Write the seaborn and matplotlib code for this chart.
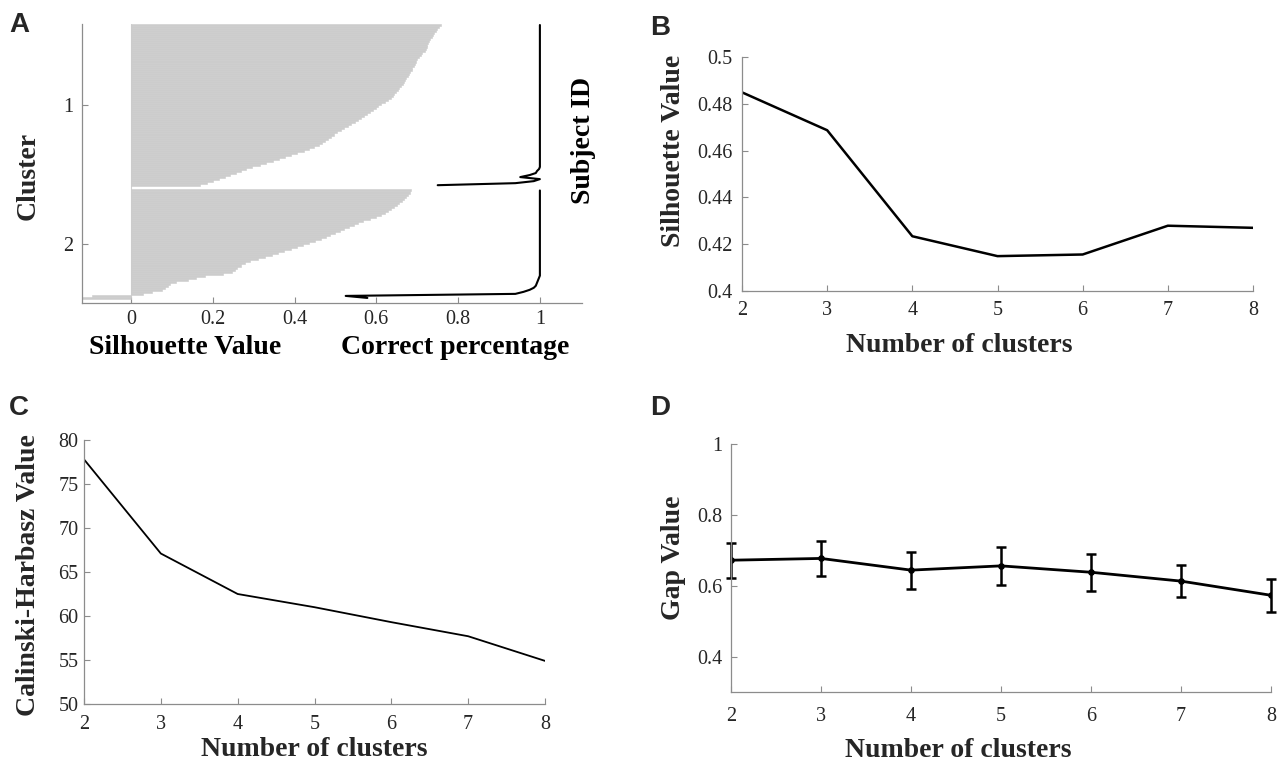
import numpy as np
import matplotlib
matplotlib.use("Agg")
import matplotlib.pyplot as plt
import seaborn as sns

# Panel A: silhouette values per subject, sorted within each cluster
sil_cluster1 = [
    0.757, 0.752, 0.749, 0.746, 0.742, 0.738, 0.735, 0.732, 0.729, 0.727,
    0.725, 0.723, 0.721, 0.718, 0.712, 0.708, 0.704, 0.700, 0.697, 0.694,
    0.691, 0.688, 0.686, 0.683, 0.680, 0.677, 0.673, 0.670, 0.667, 0.664,
    0.660, 0.656, 0.652, 0.648, 0.644, 0.640, 0.636, 0.628, 0.620, 0.612,
    0.605, 0.598, 0.591, 0.584, 0.577, 0.570, 0.563, 0.555, 0.547, 0.539,
    0.530, 0.522, 0.513, 0.504, 0.496, 0.489, 0.482, 0.474, 0.466, 0.459,
    0.448, 0.436, 0.422, 0.405, 0.390, 0.376, 0.362, 0.347, 0.331, 0.315,
    0.297, 0.282, 0.268, 0.256, 0.243, 0.229, 0.214, 0.200, 0.185, 0.168,
]
sil_cluster2 = [
    0.685, 0.683, 0.678, 0.672, 0.667, 0.662, 0.656, 0.650, 0.643, 0.636,
    0.628, 0.620, 0.612, 0.600, 0.585, 0.568, 0.555, 0.545, 0.533, 0.522,
    0.510, 0.498, 0.487, 0.476, 0.465, 0.450, 0.436, 0.420, 0.405, 0.390,
    0.375, 0.360, 0.345, 0.328, 0.310, 0.292, 0.278, 0.268, 0.260, 0.254,
    0.248, 0.225, 0.180, 0.160, 0.140, 0.110, 0.095, 0.090, 0.082, 0.075,
    0.050, 0.030, -0.095, -0.130,
]
# correct percentage per subject (same order)
correct_cluster1 = [1.0] * 71 + [0.998, 0.993, 0.99, 0.975, 0.952, 1.0, 0.985, 0.94, 0.75]
correct_cluster2 = [1.0] * 43 + [0.998, 0.996, 0.994, 0.992, 0.99, 0.985, 0.975,
                                 0.96, 0.94, 0.525, 0.578]
cluster_labels = ["1", "2"]

# Panels B-D
n_clusters = [2, 3, 4, 5, 6, 7, 8]
silhouette_mean = [0.4849, 0.4687, 0.4234, 0.4149, 0.4156, 0.4279, 0.4270]
ch_values = [77.8, 67.1, 62.5, 61.0, 59.3, 57.7, 54.9]
gap_values = [0.672, 0.677, 0.644, 0.656, 0.638, 0.613, 0.573]
gap_err = [0.049, 0.050, 0.052, 0.054, 0.052, 0.046, 0.046]

sns.set_style("ticks")
plt.rcParams['font.family'] = ['Liberation Serif', 'DejaVu Serif']

W, H = 1279, 761
SPINE = '#8c8c8c'
TXT = '#262626'
LABEL_FS = 20
TICK_FS = 14.5


def box(left, top, right, bottom):
    return [left / W, 1 - bottom / H, (right - left) / W, (bottom - top) / H]


def style_axes(ax, xpad=7, ypad=6):
    sns.despine(ax=ax)
    for s in ['left', 'bottom']:
        ax.spines[s].set_color(SPINE)
        ax.spines[s].set_linewidth(0.9)
    ax.tick_params(direction='in', length=4, width=0.8, color=SPINE,
                   labelcolor=TXT, labelsize=TICK_FS)
    ax.tick_params(axis='x', pad=xpad)
    ax.tick_params(axis='y', pad=ypad)


fig = plt.figure(figsize=(W / 100, H / 100), dpi=100)
axA = fig.add_axes(box(82, 24, 582, 303))
axB = fig.add_axes(box(742, 57, 1253, 291))
axC = fig.add_axes(box(84, 440, 545, 704))
axD = fig.add_axes(box(731, 444, 1271, 692))

# ---- A: silhouette plot + correct percentage
n1, n2 = len(sil_cluster1), len(sil_cluster2)
rows1 = np.arange(1, n1 + 1)
rows2 = n1 + 2.6 + np.arange(n2)
axA.barh(rows1, sil_cluster1, height=1.0, color='#cccccc', edgecolor='#cccccc', linewidth=0.4)
axA.barh(rows2, sil_cluster2, height=1.0, color='#cccccc', edgecolor='#cccccc', linewidth=0.4)
axA.axvline(0, color='#d0d0d0', lw=0.8, zorder=0)
axA.plot(correct_cluster1, rows1, color='black', lw=1.5)
axA.plot(correct_cluster2, rows2, color='black', lw=1.5)
axA.set_xlim(-0.12, 1.103)
axA.set_ylim(rows2[-1] + 2.5, 0.5)
axA.set_xticks([0, 0.2, 0.4, 0.6, 0.8, 1])
axA.set_xticklabels(['0', '0.2', '0.4', '0.6', '0.8', '1'])
axA.set_yticks([rows1.mean(), rows2.mean()])
axA.set_yticklabels(cluster_labels)
style_axes(axA, xpad=5, ypad=6)
axA.text(0.206, -0.16, 'Silhouette Value', transform=axA.transAxes, ha='center', va='center',
         fontsize=LABEL_FS, fontweight='bold', color='black')
axA.text(0.747, -0.16, 'Correct percentage', transform=axA.transAxes, ha='center', va='center',
         fontsize=LABEL_FS, fontweight='bold', color='black')
axA.text(1.002, 0.584, 'Subject ID', transform=axA.transAxes, ha='center', va='center',
         rotation=90, fontsize=LABEL_FS, fontweight='bold', color='black')
fig.text(28 / W, 1 - 176 / H, 'Cluster', ha='center', va='center', rotation=90,
         fontsize=LABEL_FS, fontweight='bold')

# ---- B: mean silhouette value
sns.lineplot(x=n_clusters, y=silhouette_mean, ax=axB, color='black', lw=1.8)
axB.set_xlim(2, 8)
axB.set_ylim(0.4, 0.5)
axB.set_xticks(n_clusters)
axB.set_yticks([0.4, 0.42, 0.44, 0.46, 0.48, 0.5])
axB.set_yticklabels(['0.4', '0.42', '0.44', '0.46', '0.48', '0.5'])
style_axes(axB, xpad=7, ypad=7)
axB.set_xlabel('Number of clusters', fontsize=LABEL_FS, fontweight='bold', va='center')
axB.xaxis.set_label_coords(0.425, -0.231)
axB.set_ylabel('Silhouette Value', fontsize=LABEL_FS, fontweight='bold', va='center')
axB.yaxis.set_label_coords(-0.135, 0.598)

# ---- C: Calinski-Harabasz
sns.lineplot(x=n_clusters, y=ch_values, ax=axC, color='black', lw=1.3)
axC.set_xlim(2, 8)
axC.set_ylim(50, 80)
axC.set_xticks(n_clusters)
axC.set_yticks([50, 55, 60, 65, 70, 75, 80])
style_axes(axC, xpad=8, ypad=4)
axC.set_xlabel('Number of clusters', fontsize=LABEL_FS, fontweight='bold', va='center')
axC.xaxis.set_label_coords(0.499, -0.174)
axC.set_ylabel('Calinski-Harbasz Value', fontsize=LABEL_FS, fontweight='bold', va='center')
axC.yaxis.set_label_coords(-0.121, 0.49)

# ---- D: gap statistic
sns.lineplot(x=n_clusters, y=gap_values, ax=axD, color='black', lw=2.0,
             marker='o', markersize=4, markeredgecolor='black')
axD.errorbar(n_clusters, gap_values, yerr=gap_err, fmt='none', ecolor='black',
             elinewidth=1.8, capsize=3.5, capthick=1.8, clip_on=False)
axD.set_xlim(2, 8)
axD.set_ylim(0.3, 1.0)
axD.set_xticks(n_clusters)
axD.set_yticks([0.4, 0.6, 0.8, 1.0])
axD.set_yticklabels(['0.4', '0.6', '0.8', '1'])
style_axes(axD, xpad=11, ypad=6)
axD.set_xlabel('Number of clusters', fontsize=LABEL_FS, fontweight='bold', va='center')
axD.xaxis.set_label_coords(0.42, -0.234)
axD.set_ylabel('Gap Value', fontsize=LABEL_FS, fontweight='bold', va='center')
axD.yaxis.set_label_coords(-0.107, 0.54)

# panel letters
for letter, (px, py) in zip('ABCD', [(19, 25), (660, 28), (19, 408), (660, 408)]):
    fig.text(px / W, 1 - py / H, letter, ha='center', va='center', fontsize=20,
             fontweight='bold', family=['Liberation Sans', 'DejaVu Sans'])

fig.savefig('out.png', dpi=100)
